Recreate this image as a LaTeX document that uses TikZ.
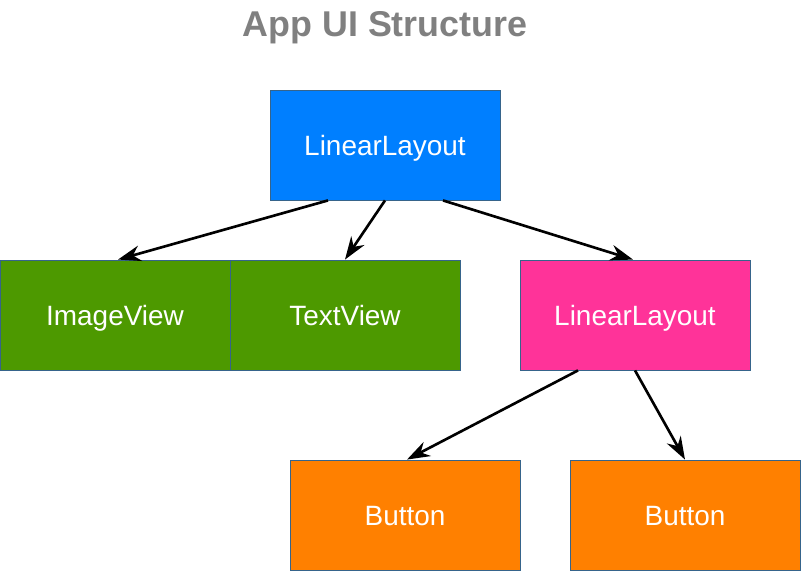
\documentclass[tikz,border=0pt]{standalone}
\usepackage{fontspec}
\setmainfont{Liberation Sans}
\usepackage{tikz}
\usetikzlibrary{arrows.meta,calc,positioning}

\definecolor{bleu}{HTML}{007FFF}
\definecolor{vert}{HTML}{4D9900}
\definecolor{rose}{HTML}{FF3399}
\definecolor{orange}{HTML}{FF8000}
\definecolor{bord}{HTML}{36648B}
\definecolor{titre}{HTML}{808080}

\begin{document}
\begin{tikzpicture}[x=0.02cm,y=-0.02cm,
  boite/.style={draw=bord,line width=0.5pt,minimum width=4.6cm,minimum height=2.2cm,
    inner sep=0pt,text=white,text height=13.2pt,text depth=1.3pt,
    font=\fontsize{15.9}{19}\selectfont},
  fleche/.style={-{Stealth[length=13pt,width=9pt]},line width=1.5pt,black}]
\pgfmathsetmacro{\ybas}{515}%
\pgfmathsetmacro{\ymilieu}{315}%
\pgfmathsetmacro{\yhaut}{145}%

\useasboundingbox (0,0) rectangle (801,571);

%titre
\node (titre) at (385,28) {\fontsize{20.4}{24}\selectfont\bfseries\color{titre} App UI Structure};

%racine
\node[boite,fill=bleu] (racine) at (385,\yhaut) {LinearLayout};

%enfants
\node[boite,fill=vert] (image) at (115,\ymilieu) {ImageView};
\node[boite,fill=vert] (texte) at (345,\ymilieu) {TextView};
\node[boite,fill=rose] (sous) at (635,\ymilieu) {LinearLayout};

%boutons
\node[boite,fill=orange] (boutonA) at (405,\ybas) {Button};
\node[boite,fill=orange] (boutonB) at (685,\ybas) {Button};

%fleches
\draw[fleche] ($(racine.south)+(-57,0)$) -- ($(image.north)+(3,0)$);
\draw[fleche] (racine.south) -- (texte.north);
\draw[fleche] ($(racine.south)+(58,0)$) -- ($(sous.north)+(-2,0)$);
\draw[fleche] ($(sous.south)+(-57,0)$) -- ($(boutonA.north)+(2,0)$);
\draw[fleche] (sous.south) -- (boutonB.north);

\end{tikzpicture}
\end{document}
